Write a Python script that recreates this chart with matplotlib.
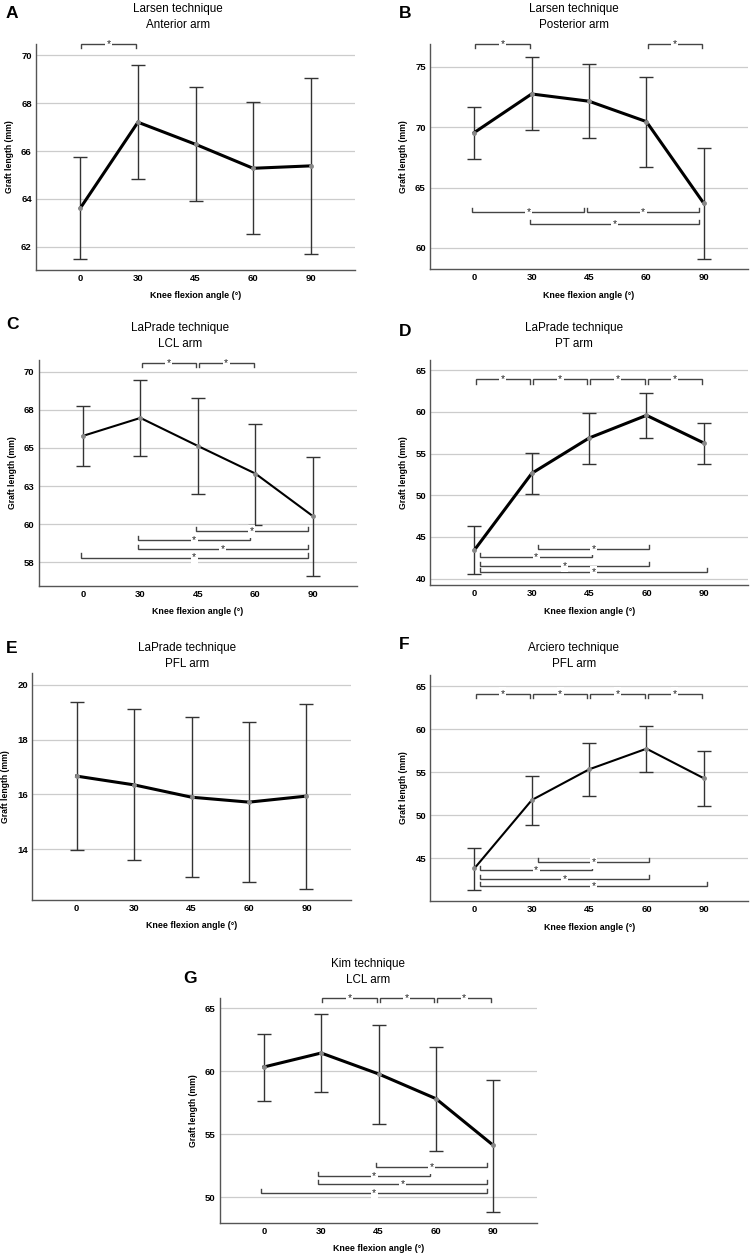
import matplotlib
matplotlib.use("Agg")
import matplotlib.pyplot as plt

plt.rcParams['font.family'] = ['Liberation Sans', 'DejaVu Sans']

W, H = 752, 1256

angles = ['0', '30', '45', '60', '90']

# Larsen technique - anterior arm
mean_A = [63.62, 67.2, 66.28, 65.28, 65.38]
lo_A = [61.5, 64.85, 63.9, 62.55, 61.7]
hi_A = [65.75, 69.6, 68.65, 68.05, 69.05]

# Larsen technique - posterior arm
mean_B = [69.56, 72.76, 72.16, 70.47, 63.7]
lo_B = [67.38, 69.75, 69.12, 66.74, 59.12]
hi_B = [71.66, 75.8, 75.25, 74.15, 68.29]

# LaPrade technique - LCL arm
mean_C = [65.79, 66.97, 65.13, 63.32, 60.53]
lo_C = [63.84, 64.47, 61.95, 59.96, 56.6]
hi_C = [67.72, 69.43, 68.25, 66.58, 64.43]

# LaPrade technique - PT arm
mean_D = [43.44, 52.64, 56.88, 59.6, 56.28]
lo_D = [40.53, 50.12, 53.8, 56.91, 53.8]
hi_D = [46.36, 55.04, 59.88, 62.31, 58.71]

# LaPrade technique - PFL arm
mean_E = [16.67, 16.35, 15.9, 15.72, 15.94]
lo_E = [13.97, 13.61, 12.98, 12.8, 12.56]
hi_E = [19.37, 19.1, 18.81, 18.64, 19.29]

# Arciero technique - PFL arm
mean_F = [43.8, 51.74, 55.31, 57.71, 54.27]
lo_F = [41.31, 48.84, 52.24, 54.97, 51.08]
hi_F = [46.16, 54.57, 58.34, 60.38, 57.44]

# Kim technique - LCL arm
mean_G = [60.34, 61.45, 59.79, 57.83, 54.13]
lo_G = [57.67, 58.33, 55.84, 53.67, 48.83]
hi_G = [62.96, 64.57, 63.67, 61.95, 59.33]

# significant pairs (index of angle i, index of angle j, level)
top_A = [(0, 1, 70.45)]
top_B = [(0, 1, 76.9), (3, 4, 76.9)]
bot_B = [(0, 2, 63.0), (2, 4, 63.0), (1, 4, 62.0)]
top_C = [(1, 2, 70.6), (2, 3, 70.6)]
bot_C = [(2, 4, 59.52), (1, 3, 58.93), (1, 4, 58.36), (0, 4, 57.81)]
top_D = [(0, 1, 63.9), (1, 2, 63.9), (2, 3, 63.9), (3, 4, 63.9)]
bot_D = [(1, 3, 43.6), (0, 2, 42.6), (0, 3, 41.55), (0, 4, 40.75)]
top_F = [(0, 1, 64.1), (1, 2, 64.1), (2, 3, 64.1), (3, 4, 64.1)]
bot_F = [(1, 3, 44.5), (0, 2, 43.6), (0, 3, 42.55), (0, 4, 41.7)]
top_G = [(1, 2, 65.84), (2, 3, 65.84), (3, 4, 65.84)]
bot_G = [(2, 4, 52.38), (1, 3, 51.71), (1, 4, 51.03), (0, 4, 50.37)]

ticks_A = [62, 64, 66, 68, 70]
ticks_B = [60, 65, 70, 75]
ticks_C = [57.5, 60, 62.5, 65, 67.5, 70]
labels_C = ['58', '60', '63', '65', '68', '70']
ticks_D = [40, 45, 50, 55, 60, 65]
ticks_E = [14, 16, 18, 20]
ticks_F = [45, 50, 55, 60, 65]
ticks_G = [50, 55, 60, 65]

fig = plt.figure(figsize=(W / 100, H / 100), dpi=100)


def add_axes(l, r, t, b):
    return fig.add_axes([l / W, 1 - b / H, (r - l) / W, (b - t) / H])


def bracket(ax, x0, x1, y, down):
    y0, y1 = ax.get_ylim()
    tk = 0.018 * (y1 - y0)
    ye = y - tk if down else y + tk
    ax.plot([x0, x0, x1, x1], [ye, y, y, ye], color='#444444', lw=1.0,
            clip_on=False, zorder=4, solid_joinstyle='miter')
    ax.text((x0 + x1) / 2, y, '*', ha='center', va='center', fontsize=7.5,
            color='#222222', zorder=5, clip_on=False,
            bbox=dict(facecolor='white', edgecolor='none', pad=1.0))


def panel(box, letter, letter_xy, t1, t2, title_xy, mean, lo, hi, ylim, ticks,
          labels=None, lw=2.2, top=(), bot=(), bshift=0.0):
    ax = add_axes(*box)
    x = list(range(len(angles)))
    ax.set_xlim(-0.77, 4.77)
    ax.set_ylim(*ylim)
    yerr = [[m - l for m, l in zip(mean, lo)], [h - m for m, h in zip(mean, hi)]]
    ax.errorbar(x, mean, yerr=yerr, fmt='none', ecolor='#333333', elinewidth=1.0,
                capsize=5, capthick=1.0, zorder=3)
    ax.plot(x, mean, color='black', lw=lw, zorder=4, solid_joinstyle='miter')
    ax.plot(x, mean, 'o', ms=2.5, color='#888888', zorder=5)
    ax.set_xticks(x)
    ax.set_xticklabels(angles)
    ax.set_yticks(ticks)
    if labels is not None:
        ax.set_yticklabels(labels)
    else:
        ax.set_yticklabels([str(t) for t in ticks])
    for lab in ax.get_xticklabels() + ax.get_yticklabels():
        lab.set_fontweight('bold')
        lab.set_fontsize(6.8)
    ax.tick_params(length=0, pad=3)
    ax.yaxis.grid(True, color='#cccccc', lw=0.9)
    ax.set_axisbelow(True)
    for s in ['top', 'right']:
        ax.spines[s].set_visible(False)
    for s in ['left', 'bottom']:
        ax.spines[s].set_color('#555555')
        ax.spines[s].set_linewidth(1.0)
    ax.set_xlabel('Knee flexion angle (°)', fontsize=6.4, fontweight='bold', labelpad=6)
    ax.set_ylabel('Graft length (mm)', fontsize=6.2, fontweight='bold', labelpad=5)
    for (i, j, y) in top:
        bracket(ax, i + 0.02, j - 0.03, y, True)
    for (i, j, y) in bot:
        bracket(ax, i + bshift + 0.02, j + bshift - 0.03, y, False)
    fig.text(letter_xy[0] / W, 1 - letter_xy[1] / H, letter, fontsize=12.5,
             fontweight='bold', ha='left', va='baseline')
    fig.text(title_xy[0] / W, 1 - title_xy[1] / H, t1, fontsize=8.4,
             ha='center', va='baseline')
    fig.text(title_xy[0] / W, 1 - (title_xy[1] + 16) / H, t2, fontsize=8.4,
             ha='center', va='baseline')
    return ax


panel((36, 355, 44, 270), 'A', (6, 17.5), 'Larsen technique', 'Anterior arm', (178, 11.7),
      mean_A, lo_A, hi_A, (61.04, 70.46), ticks_A, top=top_A)
panel((430, 748, 44, 269), 'B', (399, 17.5), 'Larsen technique', 'Posterior arm', (574, 11.7),
      mean_B, lo_B, hi_B, (58.26, 76.9), ticks_B, top=top_B, bot=bot_B, bshift=-0.05)
panel((38.7, 357, 360, 586), 'C', (6, 329), 'LaPrade technique', 'LCL arm', (180, 330.7),
      mean_C, lo_C, hi_C, (55.94, 70.77), ticks_C, labels=labels_C, lw=1.5,
      top=top_C, bot=bot_C, bshift=-0.06)
panel((430.3, 748, 360, 585.3), 'D', (399, 336), 'LaPrade technique', 'PT arm', (574, 330.7),
      mean_D, lo_D, hi_D, (39.2, 66.24), ticks_D, top=top_D, bot=bot_D, bshift=0.08)
panel((32.3, 350.7, 673.3, 900), 'E', (6, 653), 'LaPrade technique', 'PFL arm', (187, 650.7),
      mean_E, lo_E, hi_E, (12.15, 20.42), ticks_E)
panel((430.3, 748, 675, 901), 'F', (399, 649), 'Arciero technique', 'PFL arm', (574, 650.7),
      mean_F, lo_F, hi_F, (40.0, 66.28), ticks_F, lw=1.5, top=top_F, bot=bot_F, bshift=0.08)
panel((219.7, 537.3, 997.7, 1222.7), 'G', (183, 983), 'Kim technique', 'LCL arm', (368, 966.7),
      mean_G, lo_G, hi_G, (47.98, 65.84), ticks_G, top=top_G, bot=bot_G, bshift=-0.07)

fig.savefig('out.png', dpi=100, facecolor='white')
